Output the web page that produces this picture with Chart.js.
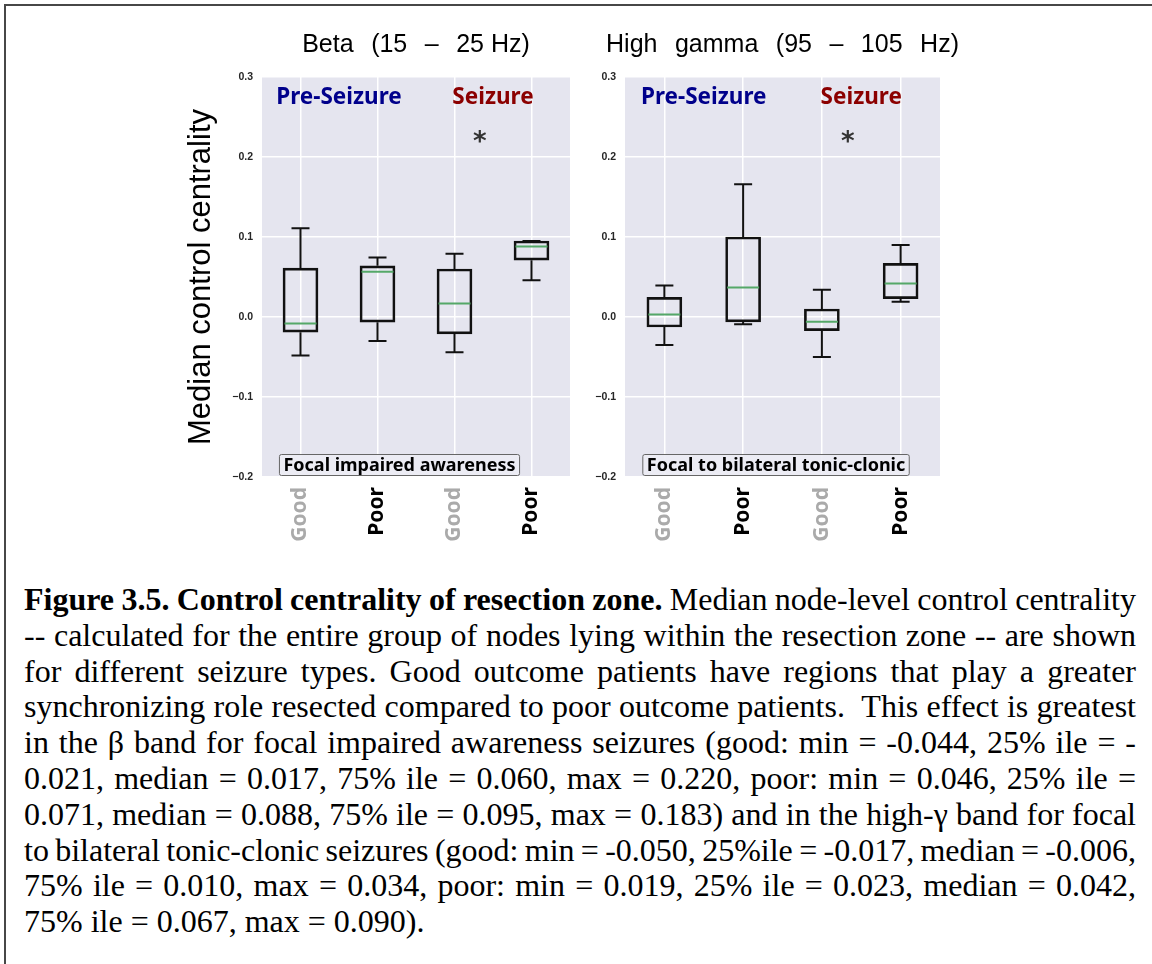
<!DOCTYPE html>
<html>
<head>
<meta charset="utf-8">
<script src="https://cdn.jsdelivr.net/npm/chart.js@4"></script>
<style>
  html, body { margin: 0; padding: 0; background: #fff; width: 1152px; height: 964px; overflow: hidden; }
  .frame { position: absolute; left: 4px; top: 4px; width: 1200px; height: 1000px; border: 2px solid #474747; }
  #betaChart { position: absolute; left: 180px; top: 0; }
  #gammaChart { position: absolute; left: 580px; top: 0; }
  .caption {
    position: absolute; left: 24px; top: 582px; width: 1112px;
    font-family: "Liberation Serif", "Times New Roman", serif;
    font-size: 32px; line-height: 35.8px; color: #000;
  }
  .caption div { white-space: nowrap; }
</style>
</head>
<body>
<div class="frame"></div>
<canvas id="betaChart" width="400" height="560"></canvas>
<canvas id="gammaChart" width="400" height="560"></canvas>

<div class="caption">
  <div><span><b>Figure 3.5. Control centrality of resection zone.</b> Median node-level control centrality</span></div>
  <div><span>-- calculated for the entire group of nodes lying within the resection zone -- are shown</span></div>
  <div><span>for different seizure types. Good outcome patients have regions that play a greater</span></div>
  <div><span>synchronizing role resected compared to poor outcome patients. &nbsp;This effect is greatest</span></div>
  <div><span>in the &beta; band for focal impaired awareness seizures (good: min = -0.044, 25% ile = -</span></div>
  <div><span>0.021, median = 0.017, 75% ile = 0.060, max = 0.220, poor: min = 0.046, 25% ile =</span></div>
  <div><span>0.071, median = 0.088, 75% ile = 0.095, max = 0.183) and in the high-&gamma; band for focal</span></div>
  <div><span>to bilateral tonic-clonic seizures (good: min = -0.050, 25%ile = -0.017, median = -0.006,</span></div>
  <div><span>75% ile = 0.010, max = 0.034, poor: min = 0.019, 25% ile = 0.023, median = 0.042,</span></div>
  <div class="last"><span>75% ile = 0.067, max = 0.090).</span></div>
</div>

<script>
// Outcome groups: pre-seizure good/poor, then seizure good/poor
const categories = ['Good', 'Poor', 'Good', 'Poor'];
const categoryColors = ['#aaaaaa', '#000000', '#aaaaaa', '#000000'];
const yTicks = [-0.2, -0.1, 0.0, 0.1, 0.2, 0.3];

// Beta band (15 - 25 Hz), focal impaired awareness
const betaLow  = [-0.048, -0.030, -0.044, 0.046];
const betaQ1   = [-0.019, -0.0065, -0.021, 0.071];
const betaMed  = [-0.008, 0.0565, 0.017, 0.088];
const betaQ3   = [0.061, 0.064, 0.060, 0.095];
const betaHigh = [0.111, 0.0745, 0.079, 0.095];

// High gamma band (95 - 105 Hz), focal to bilateral tonic-clonic
const gammaLow  = [-0.035, -0.009, -0.050, 0.019];
const gammaQ1   = [-0.0125, -0.006, -0.017, 0.023];
const gammaMed  = [0.003, 0.037, -0.006, 0.042];
const gammaQ3   = [0.0245, 0.100, 0.010, 0.067];
const gammaHigh = [0.0395, 0.166, 0.034, 0.090];

const LABEL_FONT = '"Noto Sans", "Open Sans", sans-serif';
const AXIS_FONT = '"Liberation Sans", Arial, sans-serif';
const TITLE_GAP = '\u2002\u2009';   // wide word gap in the panel titles

function fmtTick(v) {
  if (Math.abs(v) < 1e-9) return '0.0';
  return (v < 0 ? '\u2212' : '') + Math.abs(v).toFixed(1);
}

// background, whiskers, caps, medians, panel title and text annotations
function boxPlugin(title, low, med, high, note) {
  return {
    id: 'boxExtras',
    beforeDraw(chart) {
      const { ctx, chartArea: a } = chart;
      ctx.save();
      ctx.fillStyle = '#e5e5ef';
      ctx.fillRect(a.left, a.top, a.right - a.left, a.bottom - a.top);
      ctx.restore();
    },
    afterDatasetsDraw(chart) {
      const { ctx, scales: { x, y } } = chart;
      const q = chart.data.datasets[0].data;
      ctx.save();
      for (let i = 0; i < categories.length; i++) {
        const cx = x.getPixelForValue(i);
        const capHalf = 9;
        ctx.strokeStyle = '#111';
        ctx.lineWidth = 2;
        ctx.beginPath();
        // lower whisker + cap
        ctx.moveTo(cx, y.getPixelForValue(q[i][0]));
        ctx.lineTo(cx, y.getPixelForValue(low[i]));
        ctx.moveTo(cx - capHalf, y.getPixelForValue(low[i]));
        ctx.lineTo(cx + capHalf, y.getPixelForValue(low[i]));
        // upper whisker + cap
        ctx.moveTo(cx, y.getPixelForValue(q[i][1]));
        ctx.lineTo(cx, y.getPixelForValue(high[i]));
        ctx.moveTo(cx - capHalf, y.getPixelForValue(high[i]));
        ctx.lineTo(cx + capHalf, y.getPixelForValue(high[i]));
        ctx.stroke();
        // median
        ctx.strokeStyle = '#55a868';
        ctx.beginPath();
        ctx.moveTo(cx - 16, y.getPixelForValue(med[i]));
        ctx.lineTo(cx + 16, y.getPixelForValue(med[i]));
        ctx.stroke();
      }
      ctx.restore();
    },
    afterDraw(chart) {
      const { ctx, chartArea: a, scales: { x, y } } = chart;
      ctx.save();
      ctx.textAlign = 'center';
      ctx.textBaseline = 'middle';

      // panel title, centred over the plot area
      ctx.fillStyle = '#000';
      ctx.font = '25px ' + AXIS_FONT;
      ctx.fillText(title, (a.left + a.right) / 2, 45);

      ctx.font = 'bold 22.5px ' + LABEL_FONT;
      ctx.fillStyle = '#00008b';
      ctx.fillText('Pre-Seizure', x.getPixelForValue(0.5), y.getPixelForValue(0.274));
      ctx.fillStyle = '#8b0000';
      ctx.fillText('Seizure', x.getPixelForValue(2.5), y.getPixelForValue(0.274));

      // significance marker
      ctx.fillStyle = '#333';
      ctx.font = 'bold 26px "DejaVu Sans", sans-serif';
      ctx.fillText('*', x.getPixelForValue(2.33), y.getPixelForValue(0.2175));

      // seizure type box
      ctx.font = 'bold 18px ' + LABEL_FONT;
      const w = ctx.measureText(note).width + 8;
      const bx = x.getPixelForValue(-0.28);
      const by = y.getPixelForValue(-0.1975);
      ctx.fillStyle = 'rgba(236,236,244,0.9)';
      ctx.strokeStyle = '#666';
      ctx.lineWidth = 1;
      ctx.beginPath();
      ctx.roundRect(bx + 0.5, by - 21 + 0.5, w, 21, 2);
      ctx.fill();
      ctx.stroke();
      ctx.fillStyle = '#000';
      ctx.textAlign = 'left';
      ctx.fillText(note, bx + 4.5, by - 9.5);
      ctx.restore();
    }
  };
}

function makeBoxChart(id, title, low, q1, med, q3, high, note, yWidth, padRight, yTitle) {
  return new Chart(document.getElementById(id), {
    type: 'bar',
    data: {
      labels: categories,
      datasets: [{
        data: q1.map((v, i) => [v, q3[i]]),
        backgroundColor: 'rgba(0,0,0,0)',
        borderColor: '#111',
        borderWidth: 2,
        borderSkipped: false,
        barThickness: 35
      }]
    },
    options: {
      responsive: false,
      animation: false,
      layout: { padding: { left: 0, right: padRight, top: 77, bottom: 0 } },
      plugins: {
        legend: { display: false },
        tooltip: { enabled: false }
      },
      scales: {
        x: {
          type: 'category',
          offset: true,
          grid: { color: '#fff', lineWidth: 1.5, offset: false, drawTicks: false },
          border: { display: false },
          ticks: {
            minRotation: 90,
            maxRotation: 90,
            padding: 10,
            color: c => categoryColors[c.index],
            font: { family: LABEL_FONT, size: 21, weight: 'bold' }
          },
          afterFit: s => { s.height = 83; }
        },
        y: {
          min: -0.2,
          max: 0.3,
          afterBuildTicks: s => { s.ticks = yTicks.map(v => ({ value: v })); },
          grid: { color: '#fff', lineWidth: 1.5, drawTicks: false },
          border: { display: false },
          ticks: {
            padding: 9,
            color: '#262626',
            font: { family: AXIS_FONT, size: 10.5, weight: 'bold' },
            callback: v => fmtTick(v)
          },
          title: {
            display: !!yTitle,
            text: yTitle,
            color: '#000',
            font: { family: AXIS_FONT, size: 31, weight: 'normal' },
            padding: { top: 3, bottom: 0 }
          },
          afterFit: s => { s.width = yWidth; }
        }
      }
    },
    plugins: [boxPlugin(title, low, med, high, note)]
  });
}

makeBoxChart('betaChart', ['Beta', '(15', '\u2013', '25 Hz)'].join(TITLE_GAP),
  betaLow, betaQ1, betaMed, betaQ3, betaHigh, 'Focal impaired awareness', 82, 10, 'Median control centrality');
makeBoxChart('gammaChart', ['High', 'gamma', '(95', '\u2013', '105', 'Hz)'].join(TITLE_GAP),
  gammaLow, gammaQ1, gammaMed, gammaQ3, gammaHigh, 'Focal to bilateral tonic-clonic', 45, 40, '');

// stretch or squeeze the word gaps so every caption line fills the full width
const captionWidth = 1112;
document.querySelectorAll('.caption div').forEach(line => {
  if (line.classList.contains('last')) return;
  const span = line.querySelector('span');
  const gaps = (span.textContent.match(/[ \u00a0]/g) || []).length;
  const natural = span.getBoundingClientRect().width;
  if (gaps) span.style.wordSpacing = ((captionWidth - natural) / gaps) + 'px';
});
</script>
</body>
</html>
